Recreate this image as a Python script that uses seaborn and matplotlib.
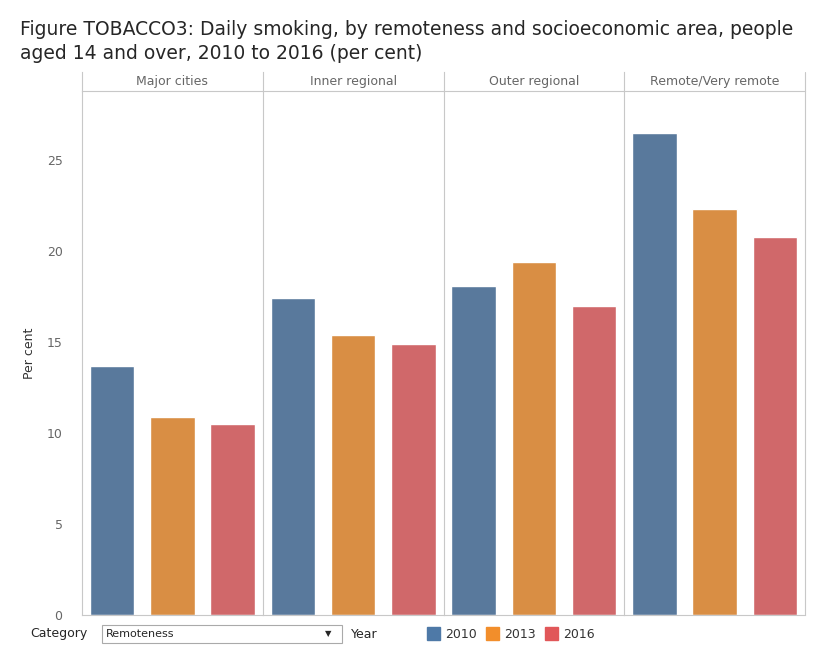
import matplotlib
matplotlib.use('Agg')
import matplotlib.pyplot as plt
import seaborn as sns
import pandas as pd
from matplotlib.patches import Rectangle

regions = ['Major cities', 'Inner regional', 'Outer regional', 'Remote/Very remote']
years = ['2010', '2013', '2016']
v2010 = [13.7, 17.4, 18.1, 26.5]
v2013 = [10.9, 15.4, 19.4, 22.3]
v2016 = [10.5, 14.9, 17.0, 20.8]
colors = ['#4e79a7', '#f28e2b', '#e15759']

rows = []
for i, r in enumerate(regions):
    for y, vals in zip(years, [v2010, v2013, v2016]):
        rows.append({'region': r, 'year': y, 'value': vals[i]})
df = pd.DataFrame(rows)

sns.set_style('white')
plt.rcParams['font.family'] = ['DejaVu Sans']
W, H = 836, 660
fig = plt.figure(figsize=(W / 100, H / 100), dpi=100)

fig.text(20 / W, 1 - 20 / H, 'Figure TOBACCO3: Daily smoking, by remoteness and socioeconomic area, people\naged 14 and over, 2010 to 2016 (per cent)',
         fontsize=13.5, va='top', ha='left', linespacing=1.35)

left, right, top, hdr, bottom = 82, 805, 72, 91, 615
pw = (right - left) / 4
grey = '#c8c8c8'
for i, r in enumerate(regions):
    x0 = (left + i * pw) / W
    ax = fig.add_axes([x0, 1 - bottom / H, pw / W, (bottom - hdr) / H])
    sub = df[df.region == r]
    sns.barplot(data=sub, x='year', y='value', hue='year', palette=colors,
                order=years, hue_order=years, width=0.74, legend=False, ax=ax)
    ax.set_ylim(0, 28.8)
    ax.set_xlim(-0.5, 2.5)
    ax.set_xlabel('')
    ax.set_xticks([])
    for s in ['top', 'right']:
        ax.spines[s].set_visible(False)
    ax.spines['left'].set_color(grey)
    ax.spines['bottom'].set_color(grey)
    if i == 0:
        ax.set_yticks([0, 5, 10, 15, 20, 25])
        ax.tick_params(axis='y', length=0, labelsize=9, labelcolor='#666666', pad=14)
        ax.set_ylabel('Per cent', fontsize=9, color='#333333', labelpad=8)
    else:
        ax.set_yticks([])
        ax.set_ylabel('')
    hax = fig.add_axes([x0, 1 - hdr / H, pw / W, (hdr - top) / H])
    hax.set_xticks([]); hax.set_yticks([])
    for s in ['top', 'right']:
        hax.spines[s].set_visible(False)
    hax.spines['left'].set_color(grey)
    hax.spines['bottom'].set_color(grey)
    hax.text(0.5, 0.5, r, ha='center', va='center', fontsize=9, color='#666666')

# right border
fig.add_artist(plt.Line2D([right / W, right / W], [1 - bottom / H, 1 - top / H], color=grey, lw=0.8))

# bottom controls
fig.text(30 / W, 1 - 634 / H, 'Category', fontsize=9, va='center')
fig.add_artist(Rectangle((102 / W, 1 - 643 / H), 240 / W, 18 / H, fill=False, edgecolor='#aaaaaa', lw=0.8))
fig.text(106 / W, 1 - 634 / H, 'Remoteness', fontsize=8, va='center')
fig.text(325 / W, 1 - 634 / H, '▼', fontsize=6, va='center')
fig.text(351 / W, 1 - 634 / H, 'Year', fontsize=9, va='center')
for k, (y, c) in enumerate(zip(years, colors)):
    x = 427 + k * 59
    fig.add_artist(Rectangle((x / W, 1 - 640 / H), 13 / W, 13 / H, color=c))
    fig.text((x + 18) / W, 1 - 634 / H, y, fontsize=9, va='center', color='#333333')

fig.savefig('out.png', dpi=100)
